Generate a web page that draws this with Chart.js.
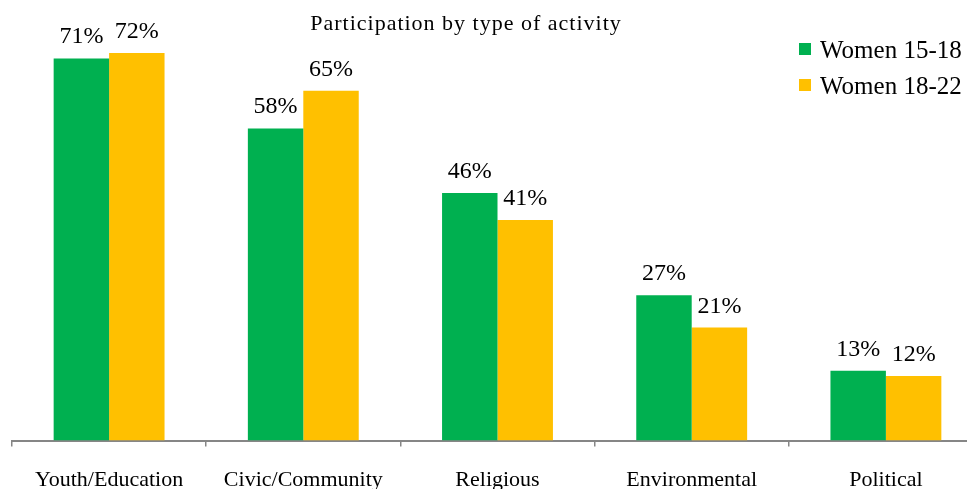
<!DOCTYPE html>
<html>
<head>
<meta charset="utf-8">
<script src="https://cdn.jsdelivr.net/npm/chart.js@4.4.1/dist/chart.umd.min.js"></script>
<style>
  html, body { margin: 0; padding: 0; background: #fff; overflow: hidden; }
  .wrap { position: relative; width: 984px; height: 489px; }
</style>
</head>
<body>
<div class="wrap"><canvas id="chart"></canvas></div>
<script>
const categories = ['Youth/Education', 'Civic/Community', 'Religious', 'Environmental', 'Political'];
const seriesNames = ['Women 15-18', 'Women 18-22'];
const women1518 = [71, 58, 46, 27, 13];
const women1822 = [72, 65, 41, 21, 12];
const seriesColors = ['#00B050', '#FFC000'];
const chartTitle = 'Participation by type of activity';

const SERIF = '"Liberation Serif", "Times New Roman", serif';

// percentages above bars, plus title and legend drawn on the canvas
const annotate = {
  id: 'annotate',
  afterDatasetsDraw(chart) {
    const ctx = chart.ctx;
    ctx.save();
    ctx.fillStyle = '#000';
    ctx.textAlign = 'center';
    ctx.textBaseline = 'alphabetic';
    ctx.font = '24px ' + SERIF;
    chart.data.datasets.forEach(function (ds, i) {
      chart.getDatasetMeta(i).data.forEach(function (bar, j) {
        ctx.fillText(ds.data[j] + '%', bar.x, bar.y - 15);
      });
    });

    ctx.font = '22px ' + SERIF;
    ctx.letterSpacing = '1px';
    ctx.fillText(chartTitle, 466, 30);
    ctx.letterSpacing = '0px';

    ctx.textAlign = 'left';
    ctx.font = '25px ' + SERIF;
    chart.data.datasets.forEach(function (ds, i) {
      const y = 58 + i * 36;
      ctx.fillStyle = ds.backgroundColor;
      ctx.fillRect(799, y - 15, 12, 12);
      ctx.fillStyle = '#000';
      ctx.fillText(ds.label, 820, y);
    });
    ctx.restore();
  },
};

new Chart(document.getElementById('chart'), {
  type: 'bar',
  data: {
    labels: categories,
    datasets: [
      { label: seriesNames[0], data: women1518, backgroundColor: seriesColors[0] },
      { label: seriesNames[1], data: women1822, backgroundColor: seriesColors[1] },
    ],
  },
  options: {
    responsive: true,
    maintainAspectRatio: false,
    animation: false,
    layout: { padding: { top: 10, left: 12, right: 1, bottom: -24 } },
    datasets: {
      bar: { categoryPercentage: 0.571, barPercentage: 1.0, borderWidth: 0 },
    },
    plugins: {
      legend: { display: false },
      title: { display: false },
      tooltip: { enabled: false },
    },
    scales: {
      x: {
        grid: {
          offset: true,
          drawOnChartArea: false,
          drawTicks: true,
          tickLength: 6,
          color: '#868686',
          lineWidth: 1.5,
        },
        border: { display: true, color: '#868686', width: 2 },
        ticks: {
          color: '#000',
          padding: 20,
          font: { family: SERIF, size: 22 },
          maxRotation: 0,
          autoSkip: false,
        },
      },
      y: {
        display: false,
        min: 0,
        max: 80,
      },
    },
  },
  plugins: [annotate],
});
</script>
</body>
</html>
